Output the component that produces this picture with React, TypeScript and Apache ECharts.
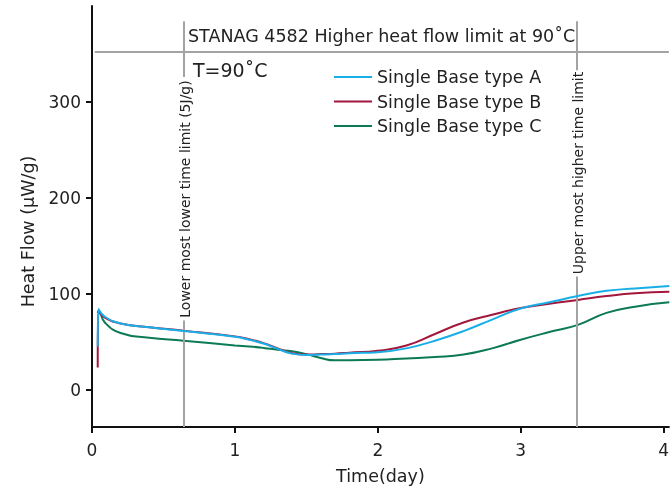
import React, { useEffect, useRef } from "react";
import * as echarts from "echarts";

const timeDays = [0.04, 0.045, 0.09, 0.2, 0.4, 0.64, 1.0, 1.1, 1.2, 1.3, 1.4, 1.5, 1.6, 1.7, 1.8, 2.0, 2.2, 2.4, 2.6, 2.8, 3.0, 3.2, 3.4, 3.6, 3.8, 4.04];
const typeA = [45, 84, 76, 69, 65, 61, 55, 52, 48, 42.5, 37.5, 36, 36.5, 37, 38, 39, 43, 51, 61, 73, 84.5, 91, 97.5, 103, 105.5, 108];
const typeB = [23, 82, 75, 69, 65, 61.5, 55.5, 52.5, 48.5, 43, 38, 36.5, 37, 37.5, 38.5, 40.5, 46, 58, 70, 78, 85, 89.5, 93.5, 97.5, 100.5, 102];
const typeC = [80, 82, 70, 59, 54, 51, 46, 45, 43.5, 41.5, 40, 37, 33, 30.5, 30.5, 31, 32.5, 34, 36.5, 43, 52, 60, 67.5, 80, 86.5, 91];

const seriesNames = ["Single Base type A", "Single Base type B", "Single Base type C"];
const seriesColors = ["#1aaee8", "#a3173d", "#0b7a55"];

const xTicks = [0, 1, 2, 3, 4];
const yTicks = [0, 100, 200, 300];

const heatFlowLimit = 352;
const lowerTimeLimit = 0.639;
const upperTimeLimit = 3.391;

const FONT = "DejaVu Sans";

export default function App() {
  const ref = useRef<HTMLDivElement>(null);

  useEffect(() => {
    if (!ref.current) return;
    const chart = echarts.init(ref.current, null, { renderer: "svg" });
    const allSeries = [typeA, typeB, typeC];
    const gray = "#a3a3a3";
    const markLineStyle = { color: gray, width: 2, type: "solid" as const };

    const series: any[] = allSeries.map((vals, i) => ({
      name: seriesNames[i],
      type: "line",
      data: timeDays.map((t, j) => [t, vals[j]]),
      showSymbol: false,
      symbol: "none",
      smooth: 0.5,
      lineStyle: { color: seriesColors[i], width: 2 },
      itemStyle: { color: seriesColors[i] },
      z: 5 - i,
    }));

    series[0].markLine = {
      silent: true,
      symbol: "none",
      label: { show: false },
      lineStyle: markLineStyle,
      data: [
        [{ coord: [0.019, heatFlowLimit] }, { coord: [4.037, heatFlowLimit] }],
        [{ coord: [lowerTimeLimit, 384] }, { coord: [lowerTimeLimit, 326] }],
        [{ coord: [lowerTimeLimit, 72] }, { coord: [lowerTimeLimit, -39] }],
        [{ coord: [upperTimeLimit, 384] }, { coord: [upperTimeLimit, 333] }],
        [{ coord: [upperTimeLimit, 118] }, { coord: [upperTimeLimit, -39] }],
      ],
    };

    chart.setOption({
      animation: false,
      textStyle: { fontFamily: FONT },
      grid: { left: 92, right: 0, top: 6, bottom: 62, containLabel: false },
      legend: {
        data: seriesNames,
        orient: "vertical",
        left: 329,
        top: 63,
        icon: "rect",
        itemWidth: 38,
        itemHeight: 2,
        itemGap: 6.5,
        textStyle: { fontFamily: FONT, fontSize: 17.5, color: "#222", lineHeight: 17.5, padding: [0, 0, 0, 0] },
      },
      xAxis: {
        type: "value",
        min: 0,
        max: 4.037,
        name: "Time(day)",
        nameLocation: "middle",
        nameGap: 40,
        nameTextStyle: { fontFamily: FONT, fontSize: 17.5, color: "#222" },
        axisLine: { show: true, onZero: false, lineStyle: { color: "#111", width: 2 } },
        axisTick: { show: true, length: 6, customValues: xTicks, lineStyle: { color: "#111", width: 2 } },
        axisLabel: { customValues: xTicks, fontFamily: FONT, fontSize: 17, color: "#222", margin: 14 },
        splitLine: { show: false },
      },
      yAxis: {
        type: "value",
        min: -39,
        max: 400,
        name: "Heat Flow (μW/g)",
        nameLocation: "middle",
        nameGap: 55,
        nameRotate: 90,
        nameTextStyle: { fontFamily: FONT, fontSize: 17.5, color: "#222", padding: [0, 30, 0, 0] },
        axisLine: { show: true, onZero: false, lineStyle: { color: "#111", width: 2 } },
        axisTick: { show: true, length: 6, customValues: yTicks, lineStyle: { color: "#111", width: 2 } },
        axisLabel: { customValues: yTicks, fontFamily: FONT, fontSize: 17, color: "#222", margin: 11 },
        splitLine: { show: false },
      },
      graphic: [
        {
          type: "text",
          left: 188,
          top: 27,
          style: { text: "STANAG 4582 Higher heat flow limit at 90˚C", fontFamily: FONT, fontSize: 17.5, fill: "#222" },
        },
        {
          type: "text",
          left: 193,
          top: 60,
          style: { text: "T=90˚C", fontFamily: FONT, fontSize: 19, fill: "#222" },
        },
        {
          type: "text",
          x: 185,
          y: 199,
          rotation: Math.PI / 2,
          style: { text: "Lower most lower time limit (5J/g)", fontFamily: FONT, fontSize: 14, fill: "#222", align: "center", verticalAlign: "middle" },
        },
        {
          type: "text",
          x: 578,
          y: 173,
          rotation: Math.PI / 2,
          style: { text: "Upper most higher time limit", fontFamily: FONT, fontSize: 14, fill: "#222", align: "center", verticalAlign: "middle" },
        },
      ],
      series,
    });

    return () => chart.dispose();
  }, []);

  return <div ref={ref} style={{ position: "fixed", left: 0, top: 0, width: 672, height: 490 }} />;
}
